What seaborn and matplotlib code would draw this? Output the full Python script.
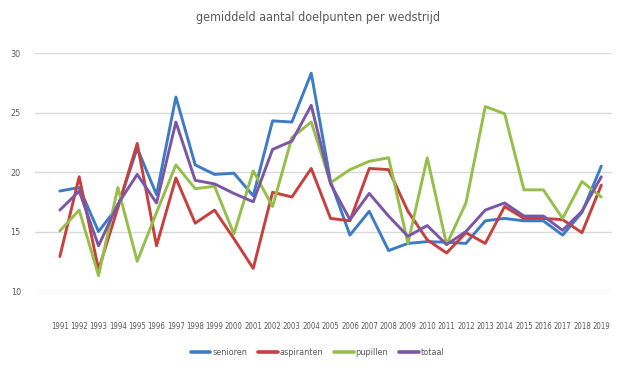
import numpy as np
import pandas as pd
import matplotlib
matplotlib.use("Agg")
import matplotlib.pyplot as plt
import seaborn as sns

# -----------------------------------------------------
# data
# -----------------------------------------------------
years = [str(y) for y in range(1991, 2020)]

senioren = [18.4, 18.7, 15.0, 17.1, 22.0, 18.1, 26.3, 20.6, 19.8, 19.9,
            18.0, 24.3, 24.2, 28.3, 19.2, 14.7, 16.7, 13.4, 14.0, 14.15,
            14.1, 14.0, 15.9, 16.1, 15.9, 15.9, 14.7, 16.6, 20.5]
aspiranten = [12.9, 19.6, 11.8, 17.0, 22.4, 13.8, 19.5, 15.7, 16.8, 14.4,
              11.9, 18.3, 17.9, 20.3, 16.1, 15.9, 20.3, 20.2, 16.7, 14.3,
              13.2, 14.9, 14.0, 17.1, 16.1, 16.1, 16.0, 14.9, 18.9]
pupillen = [15.05, 16.8, 11.3, 18.7, 12.5, 16.6, 20.6, 18.6, 18.8, 14.8,
            20.1, 17.1, 22.9, 24.2, 19.1, 20.2, 20.9, 21.2, 14.0, 21.2,
            13.9, 17.4, 25.5, 24.9, 18.5, 18.5, 16.1, 19.2, 17.9]
totaal = [16.8, 18.4, 13.8, 17.3, 19.8, 17.4, 24.2, 19.3, 19.0, 18.2,
          17.5, 21.9, 22.6, 25.6, 19.0, 16.0, 18.2, 16.3, 14.6, 15.5,
          13.9, 15.0, 16.8, 17.4, 16.3, 16.3, 15.1, 16.7, 19.6]

series = {"senioren": senioren, "aspiranten": aspiranten,
          "pupillen": pupillen, "totaal": totaal}
colors = ["#3D7CC4", "#C8403E", "#95BE4A", "#7B56A6"]

df = pd.DataFrame(series, index=years)
df.index.name = "jaar"
long = df.reset_index().melt(id_vars="jaar", var_name="groep", value_name="doelpunten")

# -----------------------------------------------------
# plot
# -----------------------------------------------------
sns.set_style("white")
plt.rcParams["font.family"] = ["DejaVu Sans"]
plt.rcParams["font.stretch"] = "condensed"
grey = "#595959"

fig = plt.figure(figsize=(6.2, 3.76), dpi=100)
ax = fig.add_axes([0.056, 0.226, 0.931, 0.633])

sns.lineplot(data=long, x="jaar", y="doelpunten", hue="groep",
             palette=colors, linewidth=2.1, sort=False, ax=ax)

ax.set_ylim(10, 30)
ax.set_yticks([10, 15, 20, 25, 30])
ax.set_xlim(-1.3, 28.55)
ax.grid(axis="y", color="#D9D9D9", linewidth=1)
ax.set_axisbelow(True)
for s in ax.spines.values():
    s.set_visible(False)
ax.tick_params(axis="both", length=0, colors=grey)
ax.tick_params(axis="x", pad=22, labelsize=5.6)
ax.tick_params(axis="y", pad=10, labelsize=6.5)
ax.set_xlabel("")
ax.set_ylabel("")

fig.suptitle("gemiddeld aantal doelpunten per wedstrijd", x=0.513, y=0.97,
             fontsize=9, color=grey)

leg = ax.legend(loc="upper center", bbox_to_anchor=(0.49, -0.205), ncol=4,
                frameon=False, fontsize=6.5, handlelength=2.2, handletextpad=0.2,
                columnspacing=1.2)
for t in leg.get_texts():
    t.set_color(grey)
for h in leg.get_lines():
    h.set_linewidth(2.6)

fig.savefig("out.png", dpi=100)
